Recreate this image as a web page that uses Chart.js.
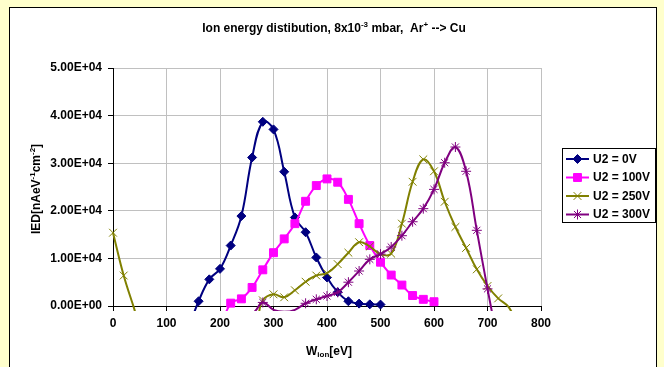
<!DOCTYPE html>
<html>
<head>
<meta charset="utf-8">
<script src="https://cdn.jsdelivr.net/npm/chart.js@4.4.1/dist/chart.umd.min.js"></script>
<style>
    html, body { margin: 0; padding: 0; background: #ffffcc; }
    #wrap { width: 664px; height: 367px; }
</style>
</head>
<body>
<div id="wrap"><canvas id="ied-chart" width="664" height="367"></canvas></div>
<script>
// values (eV / nA eV^-1 cm^-2); points below 0 are only there so the curves dive under the axis
const u0X = [140, 160, 180, 200, 220, 240, 260, 280, 300, 320, 340, 360, 380, 400, 420, 440, 460, 480, 500];
const u0Y = [-5000, 1000, 5600, 7800, 12700, 18900, 31200, 38700, 37100, 28200, 18600, 15500, 10200, 6000, 2900, 1000, 500, 350, 300];

const u100X = [200, 220, 240, 260, 280, 300, 320, 340, 360, 380, 400, 420, 440, 460, 480, 500, 520, 540, 560, 580, 600];
const u100Y = [-5000, 600, 1500, 3900, 7600, 11200, 14100, 17300, 22000, 25300, 26700, 26000, 22400, 17300, 12700, 9200, 6500, 4400, 2200, 1400, 900];

const u250X = [0, 20, 40, 60, 260, 280, 300, 320, 340, 360, 380, 400, 420, 440, 460, 480, 500, 520, 540, 560, 580, 600, 620, 640, 660, 680, 700, 720, 740, 760];
const u250Y = [15400, 6400, -700, -8000, -4000, 1200, 2450, 1830, 3300, 5100, 6400, 6900, 8800, 11200, 13400, 12500, 10900, 11000, 17300, 26100, 30800, 28300, 21900, 16600, 12200, 7700, 4200, 1600, -300, -5000];

const u300X = [0, 20, 260, 280, 300, 320, 340, 360, 380, 400, 420, 440, 460, 480, 500, 520, 540, 560, 580, 600, 620, 640, 660, 680, 700, 720];
const u300Y = [-1200, -8000, -1500, 750, -800, -1200, -800, 570, 1400, 2100, 2870, 5000, 7350, 9800, 10900, 12400, 14770, 17700, 20450, 24500, 30100, 33400, 28300, 15900, 3600, -8000];

const seriesNames = ['U2 = 0V', 'U2 = 100V', 'U2 = 250V', 'U2 = 300V'];
const yTickLabels = ['0.00E+00', '1.00E+04', '2.00E+04', '3.00E+04', '4.00E+04', '5.00E+04'];

const FONT = '"Liberation Sans", Arial, sans-serif';
const MAIN = 'bold 12px ' + FONT;
const SMALL = 'bold 8px ' + FONT;

function pts(xs, ys) {
    return xs.map((x, i) => ({ x: x, y: ys[i] }));
}

// markers under the axis are not shown, like Excel does
function radius(r) {
    return c => (c.raw && c.raw.y < 0 ? 0 : r);
}

function series(i, xs, ys, color, style, r, order) {
    return {
        label: seriesNames[i],
        data: pts(xs, ys),
        borderColor: color,
        backgroundColor: color,
        pointBorderColor: color,
        pointBackgroundColor: color,
        borderWidth: 2,
        pointStyle: style,
        pointRadius: radius(r),
        legendRadius: r,
        pointBorderWidth: 1,
        tension: 0.4,
        clip: { left: 10, top: 10, right: 10, bottom: 5 },
        order: order
    };
}

// text with sup/sub parts, s: 1 = sup, -1 = sub
function richWidth(ctx, parts) {
    let w = 0;
    for (const p of parts) {
        ctx.font = p.s ? SMALL : MAIN;
        w += ctx.measureText(p.t).width;
    }
    return w;
}

function drawRich(ctx, parts, cx, cy) {
    let x = cx - richWidth(ctx, parts) / 2;
    ctx.textAlign = 'left';
    ctx.textBaseline = 'middle';
    for (const p of parts) {
        ctx.font = p.s ? SMALL : MAIN;
        const dy = p.s === 1 ? -4 : (p.s === -1 ? 3 : 0);
        ctx.fillText(p.t, x, cy + dy);
        x += ctx.measureText(p.t).width;
    }
}

const frame = {
    id: 'frame',
    beforeDraw(chart) {
        const ctx = chart.ctx;
        ctx.save();
        ctx.fillStyle = '#ffffcc';
        ctx.fillRect(0, 0, chart.width, chart.height);
        ctx.fillStyle = '#ffffff';
        ctx.fillRect(9.5, 7.5, 647, 380);
        ctx.strokeStyle = '#000000';
        ctx.lineWidth = 1;
        ctx.strokeRect(9.5, 7.5, 647, 380);
        ctx.restore();
    },
    afterDraw(chart) {
        const ctx = chart.ctx;
        ctx.save();
        ctx.fillStyle = '#000000';

        drawRich(ctx, [
            { t: 'Ion energy distibution, 8x10' }, { t: '-3', s: 1 },
            { t: ' mbar,  Ar' }, { t: '+', s: 1 }, { t: ' --> Cu' }
        ], 334, 29);

        drawRich(ctx, [{ t: 'W' }, { t: 'ion', s: -1 }, { t: '[eV]' }], 329, 352);

        ctx.save();
        ctx.translate(37, 189);
        ctx.rotate(-Math.PI / 2);
        drawRich(ctx, [
            { t: 'IED[nAeV' }, { t: '-1', s: 1 }, { t: 'cm' }, { t: '-2', s: 1 }, { t: ']' }
        ], 0, 0);
        ctx.restore();

        // legend
        ctx.fillStyle = '#ffffff';
        ctx.fillRect(562.5, 148.5, 93, 74);
        ctx.strokeStyle = '#000000';
        ctx.lineWidth = 1;
        ctx.strokeRect(562.5, 148.5, 93, 74);
        const rows = [159, 177.5, 196, 214.5];
        chart.data.datasets.forEach((ds, i) => {
            const y = rows[i];
            ctx.strokeStyle = ds.borderColor;
            ctx.lineWidth = 2;
            ctx.beginPath();
            ctx.moveTo(566, y);
            ctx.lineTo(589, y);
            ctx.stroke();
            ctx.fillStyle = ds.backgroundColor;
            ctx.lineWidth = 1;
            Chart.helpers.drawPoint(ctx, {
                pointStyle: ds.pointStyle, radius: ds.legendRadius, borderWidth: 1, rotation: 0
            }, 577.5, y);
            ctx.fillStyle = '#000000';
            ctx.font = MAIN;
            ctx.textAlign = 'left';
            ctx.textBaseline = 'middle';
            ctx.fillText(ds.label, 593, y + 0.5);
        });
        ctx.restore();
    }
};

const tickFont = { family: FONT, size: 12, weight: 'bold' };

new Chart(document.getElementById('ied-chart'), {
    type: 'line',
    data: {
        datasets: [
            series(0, u0X, u0Y, '#000080', 'rectRot', 4.5, 4),
            series(1, u100X, u100Y, '#ff00ff', 'rect', 5.6, 3),
            series(2, u250X, u250Y, '#808000', 'crossRot', 5.5, 2),
            series(3, u300X, u300Y, '#800080', 'star', 5, 1)
        ]
    },
    options: {
        responsive: false,
        animation: false,
        devicePixelRatio: 1,
        layout: { padding: { left: 0, right: 123, top: 68, bottom: 0 } },
        elements: { line: { capBezierPoints: false } },
        scales: {
            x: {
                type: 'linear',
                min: 0,
                max: 800,
                afterFit: s => { s.height = 61; },
                ticks: { stepSize: 100, color: '#000', font: tickFont, padding: 5, maxRotation: 0 },
                grid: { color: '#c0c0c0', tickColor: '#000', tickLength: 5, lineWidth: 1 },
                border: { color: '#000', width: 1 }
            },
            y: {
                min: 0,
                max: 50000,
                afterFit: s => { s.width = 113; },
                ticks: {
                    stepSize: 10000,
                    color: '#000',
                    font: tickFont,
                    padding: 6,
                    callback: (v) => yTickLabels[Math.round(v / 10000)]
                },
                grid: { color: '#c0c0c0', tickColor: '#000', tickLength: 5, lineWidth: 1 },
                border: { color: '#000', width: 1 }
            }
        },
        plugins: {
            legend: { display: false },
            tooltip: { enabled: false }
        }
    },
    plugins: [frame]
});
</script>
</body>
</html>
